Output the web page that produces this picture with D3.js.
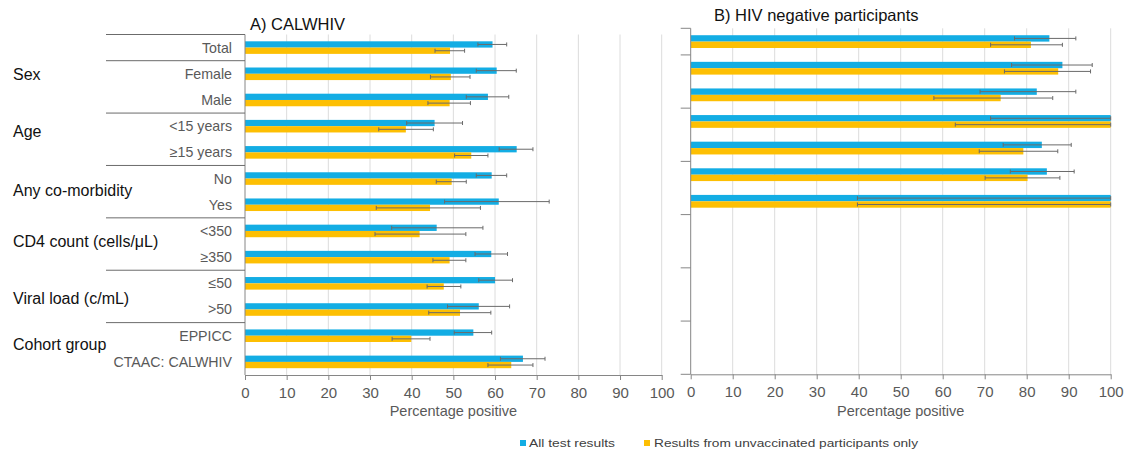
<!DOCTYPE html>
<html>
<head>
<meta charset="utf-8">
<script src="https://cdn.jsdelivr.net/npm/d3@7"></script>
<style>
  html, body { margin: 0; padding: 0; background: #fff; }
  svg { display: block; font-family: "Liberation Sans", Arial, sans-serif; }
</style>
</head>
<body>
<svg id="chart" width="1128" height="454"></svg>
<script>
// Row categories, top to bottom
const categories = ["Total", "Female", "Male", "<15 years", "\u226515 years", "No", "Yes",
  "<350", "\u2265350", "\u226450", ">50", "EPPICC", "CTAAC: CALWHIV"];

// Grouping of the rows (label, number of rows)
const groupNames = ["", "Sex", "Age", "Any co-morbidity", "CD4 count (cells/\u03bcL)", "Viral load (c/mL)", "Cohort group"];
const groupSizes = [1, 2, 2, 2, 2, 2, 2];

const seriesNames = ["All test results", "Results from unvaccinated participants only"];

// A) CALWHIV – percentage positive with 95% CI
const calAll     = [59.4, 60.4, 58.3, 45.5, 65.2, 59.2, 60.9, 46.0, 59.1, 60.0, 56.1, 54.8, 66.7];
const calAllLo   = [55.9, 55.5, 53.1, 38.8, 61.0, 55.5, 47.9, 35.2, 55.2, 56.1, 48.6, 50.2, 61.3];
const calAllHi   = [62.8, 65.1, 63.3, 52.2, 69.1, 62.8, 73.0, 57.1, 63.0, 64.2, 63.5, 59.2, 72.0];
const calUnvac   = [49.2, 49.4, 49.1, 38.6, 54.3, 49.6, 44.4, 41.9, 49.1, 47.7, 51.6, 39.9, 63.9];
const calUnvacLo = [45.6, 44.5, 43.9, 32.1, 50.3, 45.9, 31.5, 31.2, 45.1, 43.7, 44.1, 35.3, 58.3];
const calUnvacHi = [52.7, 54.0, 54.1, 45.2, 58.3, 53.1, 56.5, 53.0, 53.0, 51.8, 59.0, 44.4, 69.1];

// B) HIV negative participants (no CD4 / viral load / cohort rows)
const negAll     = [85.4, 88.5, 82.4, 100, 83.6, 84.8, 100, null, null, null, null, null, null];
const negAllLo   = [77.1, 76.4, 68.9, 71.4, 74.4, 76.1, 39.7, null, null, null, null, null, null];
const negAllHi   = [91.7, 95.6, 91.7, 100, 90.6, 91.3, 100, null, null, null, null, null, null];
const negUnvac   = [81.0, 87.5, 73.8, 100, 79.2, 80.2, 100, null, null, null, null, null, null];
const negUnvacLo = [71.4, 74.7, 57.9, 63.0, 68.7, 70.1, 39.7, null, null, null, null, null, null];
const negUnvacHi = [88.5, 95.2, 86.2, 100, 87.4, 87.9, 100, null, null, null, null, null, null];

const xTicks = [0, 10, 20, 30, 40, 50, 60, 70, 80, 90, 100];
const xTitle = "Percentage positive";

const colors = ["#13ade4", "#fdbf03"];
const textGray = "#595959";
const axisGray = "#868686";
const gridGray = "#dcdcdc";

const svg = d3.select("#chart");

function buildRows(all, allLo, allHi, un, unLo, unHi) {
  return categories.map((c, i) => ({
    cat: c,
    values: [
      { s: 0, v: all[i], lo: allLo[i], hi: allHi[i] },
      { s: 1, v: un[i], lo: unLo[i], hi: unHi[i] }
    ].filter(d => d.v != null)
  }));
}

// Row index where each group starts (and the final boundary)
const boundaries = [0];
groupSizes.forEach(n => boundaries.push(boundaries[boundaries.length - 1] + n));

function drawPanel(cfg) {
  const g = svg.append("g");
  const x = d3.scaleLinear().domain([0, 100]).range([cfg.x0, cfg.x1]);
  const y = d3.scaleBand().domain(categories).range([cfg.top, cfg.bottom])
    .paddingInner(0.52).paddingOuter(0.26);
  const ySub = d3.scaleBand().domain([0, 1]).range([0, y.bandwidth()]);
  const step = y.step();
  const boundaryY = i => cfg.top + i * step;

  // vertical gridlines
  g.append("g").selectAll("line").data(xTicks.filter(t => t > 0)).join("line")
    .attr("x1", d => x(d)).attr("x2", d => x(d))
    .attr("y1", cfg.top).attr("y2", cfg.bottom)
    .attr("stroke", gridGray).attr("stroke-width", 1);

  // bars
  const rowG = g.append("g").selectAll("g").data(cfg.rows).join("g")
    .attr("transform", d => `translate(0,${y(d.cat)})`);
  rowG.selectAll("rect").data(d => d.values).join("rect")
    .attr("x", x(0)).attr("y", d => ySub(d.s))
    .attr("width", d => x(d.v) - x(0)).attr("height", ySub.bandwidth())
    .attr("fill", d => colors[d.s]);

  // error bars (95% CI)
  const eb = rowG.selectAll("g.eb").data(d => d.values).join("g").attr("class", "eb")
    .attr("transform", d => `translate(0,${ySub(d.s) + ySub.bandwidth() / 2})`)
    .attr("stroke", "#6a6a6a").attr("stroke-width", 1);
  eb.append("line").attr("x1", d => x(d.lo)).attr("x2", d => x(d.hi)).attr("y1", 0).attr("y2", 0);
  eb.append("line").attr("x1", d => x(d.lo)).attr("x2", d => x(d.lo)).attr("y1", -2).attr("y2", 2);
  eb.append("line").attr("x1", d => x(d.hi)).attr("x2", d => x(d.hi)).attr("y1", -2).attr("y2", 2);

  // x axis
  const xa = g.append("g").attr("transform", `translate(0,${cfg.bottom})`)
    .call(d3.axisBottom(x).tickValues(xTicks).tickSize(5).tickPadding(7).tickSizeOuter(0));
  xa.select(".domain").attr("stroke", axisGray);
  xa.selectAll(".tick line").attr("stroke", axisGray);
  xa.selectAll(".tick text").attr("fill", textGray).attr("font-size", 15)
    .attr("font-family", "Liberation Sans, Arial, sans-serif");

  g.append("text").attr("x", (cfg.x0 + cfg.x1) / 2).attr("y", 416)
    .attr("text-anchor", "middle").attr("fill", textGray).attr("font-size", 14.5)
    .text(xTitle);

  // y axis line
  g.append("line").attr("x1", cfg.x0).attr("x2", cfg.x0)
    .attr("y1", cfg.top).attr("y2", cfg.bottom).attr("stroke", axisGray);

  // group boundary ticks
  const bIdx = cfg.showLabels ? boundaries.slice(0, -1) : boundaries;
  g.append("g").selectAll("line").data(bIdx).join("line")
    .attr("x1", cfg.tickLeft).attr("x2", cfg.x0)
    .attr("y1", d => boundaryY(d)).attr("y2", d => boundaryY(d))
    .attr("stroke", cfg.showLabels ? "#6b6b6b" : axisGray).attr("stroke-width", 1);

  // panel title
  g.append("text").attr("x", cfg.titleX).attr("y", cfg.titleY)
    .attr("font-size", 16.5).attr("fill", "#111").text(cfg.title);

  if (cfg.showLabels) {
    // row labels
    g.append("g").selectAll("text").data(categories).join("text")
      .attr("x", 232).attr("y", d => y(d) + y.bandwidth() / 2)
      .attr("dy", "0.35em").attr("text-anchor", "end")
      .attr("fill", textGray).attr("font-size", 14.2).text(d => d);

    // group labels
    const groupNudge = [0, -12, -8, -1.5, -2.5, 1.5, -4];
    g.append("g").selectAll("text").data(groupNames).join("text")
      .attr("x", 13)
      .attr("y", (d, i) => (boundaryY(boundaries[i]) + boundaryY(boundaries[i + 1])) / 2 + groupNudge[i])
      .attr("dy", "0.35em").attr("fill", "#111").attr("font-size", 16).text(d => d);
  }
}

drawPanel({
  x0: 245, x1: 661.7, top: 34.5, bottom: 375, tickLeft: 106,
  rows: buildRows(calAll, calAllLo, calAllHi, calUnvac, calUnvacLo, calUnvacHi),
  showLabels: true, title: "A) CALWHIV", titleX: 250, titleY: 30
});

drawPanel({
  x0: 690.7, x1: 1110.7, top: 28.3, bottom: 374.3, tickLeft: 680.7,
  rows: buildRows(negAll, negAllLo, negAllHi, negUnvac, negUnvacLo, negUnvacHi),
  showLabels: false, title: "B) HIV negative participants", titleX: 714, titleY: 21
});

// legend
const legendX = [520, 644];
const legend = svg.append("g").selectAll("g").data(seriesNames).join("g")
  .attr("transform", (d, i) => `translate(${legendX[i]},440)`);
legend.append("rect").attr("width", 6).attr("height", 6).attr("fill", (d, i) => colors[i]);
legend.append("text").attr("x", (d, i) => i === 0 ? 9 : 10).attr("y", 7)
  .attr("font-size", 11.5).attr("fill", "#404040")
  .attr("textLength", (d, i) => i === 0 ? 86 : 264).attr("lengthAdjust", "spacingAndGlyphs")
  .text(d => d);
</script>
</body>
</html>
